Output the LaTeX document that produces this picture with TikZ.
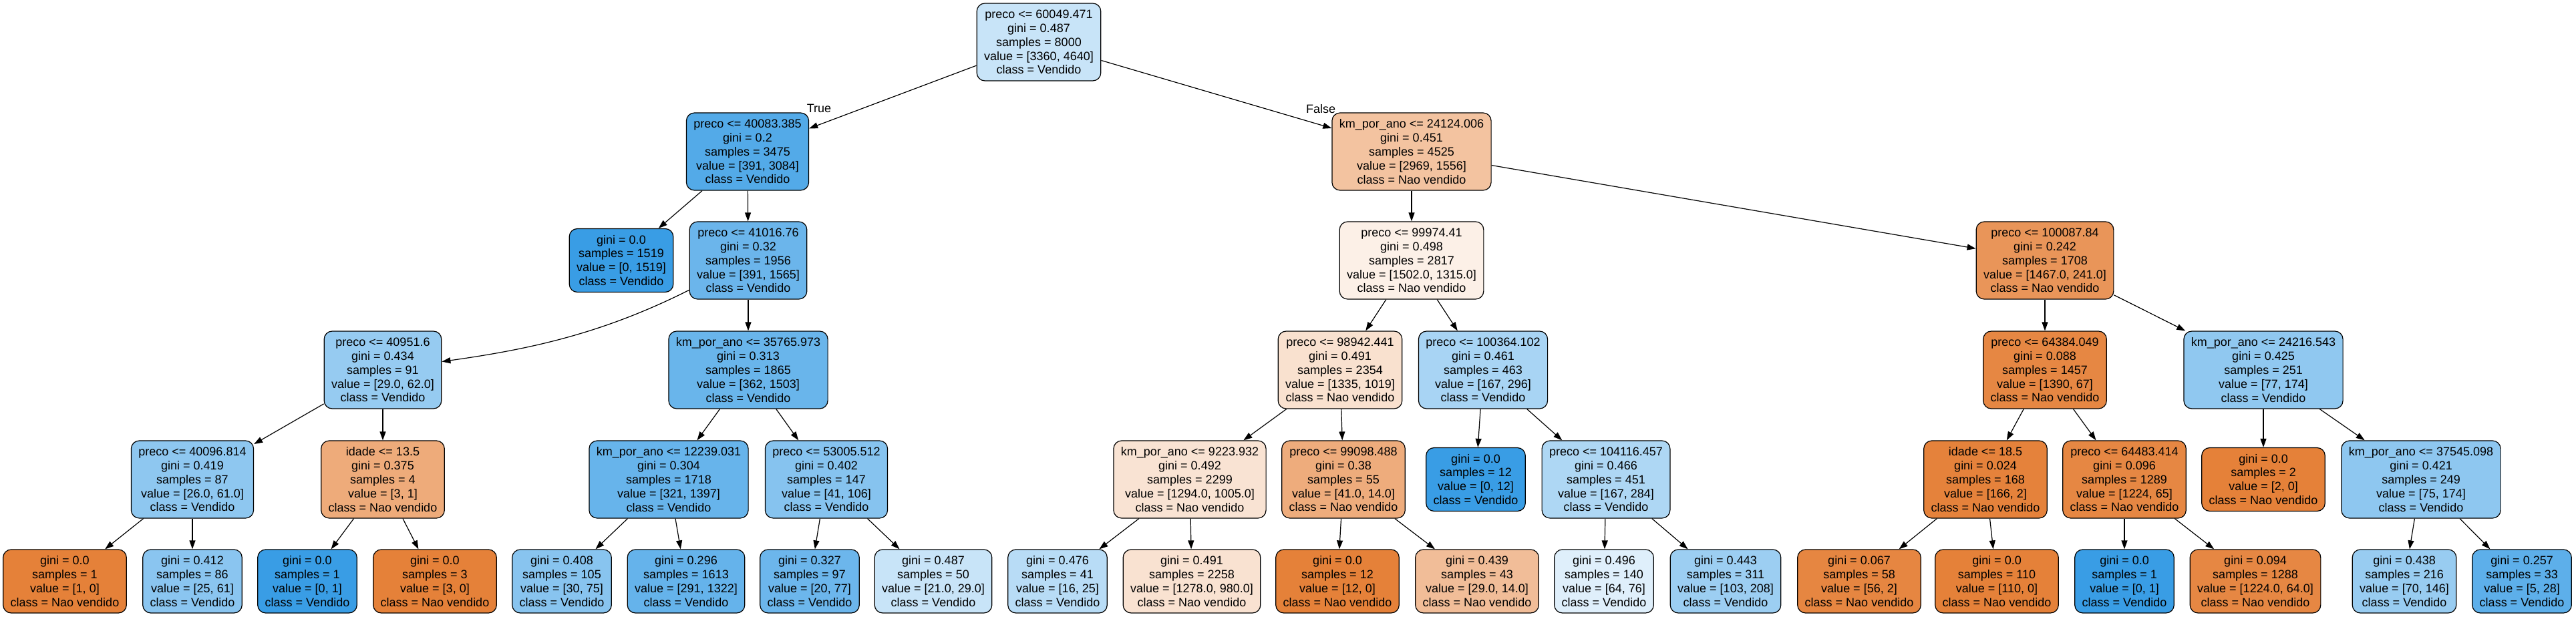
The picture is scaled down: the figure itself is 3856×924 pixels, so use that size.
\documentclass[tikz,border=0pt]{standalone}
\usepackage{fontspec}
\setmainfont{Liberation Sans}
\usetikzlibrary{arrows.meta}
\definecolor{cO}{RGB}{229,129,57}
\definecolor{cB}{RGB}{57,157,229}
\newcommand\treefont{\fontsize{9pt}{10.45pt}\selectfont}
\begin{document}
\begin{tikzpicture}[x=0.5pt,y=-0.5pt,
 tn/.style={draw=black, rounded corners=6pt, line width=0.6pt, align=center, inner xsep=5.5pt, inner ysep=2pt, minimum height=58pt, font=\treefont},
 lf/.style={tn, minimum height=47.5pt},
 blu/.style={fill=cB!#1!white},
 org/.style={fill=cO!#1!white},
 edge/.style={line width=0.6pt, -{Triangle[length=6.5pt,width=4.5pt]}},
 lbl/.style={font=\treefont, inner sep=0pt}]
\useasboundingbox (0,0) rectangle (3856,924);
% level 1
\node[tn,blu=28] (r) at (1555,63) {preco <= 60049.471\\gini = 0.487\\samples = 8000\\value = [3360, 4640]\\class = Vendido};
% level 2
\node[tn,blu=87] (a) at (1119,227) {preco <= 40083.385\\gini = 0.2\\samples = 3475\\value = [391, 3084]\\class = Vendido};
\node[tn,org=48] (b) at (2113,227) {km\_por\_ano <= 24124.006\\gini = 0.451\\samples = 4525\\value = [2969, 1556]\\class = Nao vendido};
% level 3
\node[lf,blu=100] (aa) at (930,390) {gini = 0.0\\samples = 1519\\value = [0, 1519]\\class = Vendido};
\node[tn,blu=75] (ab) at (1120,390) {preco <= 41016.76\\gini = 0.32\\samples = 1956\\value = [391, 1565]\\class = Vendido};
\node[tn,org=12] (ba) at (2113,390) {preco <= 99974.41\\gini = 0.498\\samples = 2817\\value = [1502.0, 1315.0]\\class = Nao vendido};
\node[tn,org=84] (bb) at (3061,390) {preco <= 100087.84\\gini = 0.242\\samples = 1708\\value = [1467.0, 241.0]\\class = Nao vendido};
% level 4
\node[tn,blu=53] (aba) at (573,554) {preco <= 40951.6\\gini = 0.434\\samples = 91\\value = [29.0, 62.0]\\class = Vendido};
\node[tn,blu=76] (abb) at (1120,554) {km\_por\_ano <= 35765.973\\gini = 0.313\\samples = 1865\\value = [362, 1503]\\class = Vendido};
\node[tn,org=24] (baa) at (2006,554) {preco <= 98942.441\\gini = 0.491\\samples = 2354\\value = [1335, 1019]\\class = Nao vendido};
\node[tn,blu=44] (bab) at (2220,554) {preco <= 100364.102\\gini = 0.461\\samples = 463\\value = [167, 296]\\class = Vendido};
\node[tn,org=95] (bba) at (3061,554) {preco <= 64384.049\\gini = 0.088\\samples = 1457\\value = [1390, 67]\\class = Nao vendido};
\node[tn,blu=56] (bbb) at (3388,554) {km\_por\_ano <= 24216.543\\gini = 0.425\\samples = 251\\value = [77, 174]\\class = Vendido};
% level 5
\node[tn,blu=57] (abaa) at (288,718) {preco <= 40096.814\\gini = 0.419\\samples = 87\\value = [26.0, 61.0]\\class = Vendido};
\node[tn,org=67] (abab) at (573,718) {idade <= 13.5\\gini = 0.375\\samples = 4\\value = [3, 1]\\class = Nao vendido};
\node[tn,blu=77] (abba) at (1001,718) {km\_por\_ano <= 12239.031\\gini = 0.304\\samples = 1718\\value = [321, 1397]\\class = Vendido};
\node[tn,blu=61] (abbb) at (1237,718) {preco <= 53005.512\\gini = 0.402\\samples = 147\\value = [41, 106]\\class = Vendido};
\node[tn,org=22] (baaa) at (1781,718) {km\_por\_ano <= 9223.932\\gini = 0.492\\samples = 2299\\value = [1294.0, 1005.0]\\class = Nao vendido};
\node[tn,org=66] (baab) at (2011,718) {preco <= 99098.488\\gini = 0.38\\samples = 55\\value = [41.0, 14.0]\\class = Nao vendido};
\node[lf,blu=100] (baba) at (2209,718) {gini = 0.0\\samples = 12\\value = [0, 12]\\class = Vendido};
\node[tn,blu=41] (babb) at (2404,718) {preco <= 104116.457\\gini = 0.466\\samples = 451\\value = [167, 284]\\class = Vendido};
\node[tn,org=99] (bbaa) at (2972,718) {idade <= 18.5\\gini = 0.024\\samples = 168\\value = [166, 2]\\class = Nao vendido};
\node[tn,org=95] (bbab) at (3180,718) {preco <= 64483.414\\gini = 0.096\\samples = 1289\\value = [1224, 65]\\class = Nao vendido};
\node[lf,org=100] (bbba) at (3388,718) {gini = 0.0\\samples = 2\\value = [2, 0]\\class = Nao vendido};
\node[tn,blu=57] (bbbb) at (3624,718) {km\_por\_ano <= 37545.098\\gini = 0.421\\samples = 249\\value = [75, 174]\\class = Vendido};
% level 6
\node[lf,org=100] (L1) at (97,870.5) {gini = 0.0\\samples = 1\\value = [1, 0]\\class = Nao vendido};
\node[lf,blu=59] (L2) at (288,870.5) {gini = 0.412\\samples = 86\\value = [25, 61]\\class = Vendido};
\node[lf,blu=100] (L3) at (460,870.5) {gini = 0.0\\samples = 1\\value = [0, 1]\\class = Vendido};
\node[lf,org=100] (L4) at (651,870.5) {gini = 0.0\\samples = 3\\value = [3, 0]\\class = Nao vendido};
\node[lf,blu=60] (L5) at (841,870.5) {gini = 0.408\\samples = 105\\value = [30, 75]\\class = Vendido};
\node[lf,blu=78] (L6) at (1027,870.5) {gini = 0.296\\samples = 1613\\value = [291, 1322]\\class = Vendido};
\node[lf,blu=74] (L7) at (1212,870.5) {gini = 0.327\\samples = 97\\value = [20, 77]\\class = Vendido};
\node[lf,blu=28] (L8) at (1397,870.5) {gini = 0.487\\samples = 50\\value = [21.0, 29.0]\\class = Vendido};
\node[lf,blu=36] (L9) at (1583,870.5) {gini = 0.476\\samples = 41\\value = [16, 25]\\class = Vendido};
\node[lf,org=23] (L10) at (1784,870.5) {gini = 0.491\\samples = 2258\\value = [1278.0, 980.0]\\class = Nao vendido};
\node[lf,org=100] (L11) at (2002,870.5) {gini = 0.0\\samples = 12\\value = [12, 0]\\class = Nao vendido};
\node[lf,org=52] (L12) at (2211,870.5) {gini = 0.439\\samples = 43\\value = [29.0, 14.0]\\class = Nao vendido};
\node[lf,blu=16] (L13) at (2401,870.5) {gini = 0.496\\samples = 140\\value = [64, 76]\\class = Vendido};
\node[lf,blu=50] (L14) at (2583,870.5) {gini = 0.443\\samples = 311\\value = [103, 208]\\class = Vendido};
\node[lf,org=96] (L15) at (2783,870.5) {gini = 0.067\\samples = 58\\value = [56, 2]\\class = Nao vendido};
\node[lf,org=100] (L16) at (2989,870.5) {gini = 0.0\\samples = 110\\value = [110, 0]\\class = Nao vendido};
\node[lf,blu=100] (L17) at (3180,870.5) {gini = 0.0\\samples = 1\\value = [0, 1]\\class = Vendido};
\node[lf,org=95] (L18) at (3376,870.5) {gini = 0.094\\samples = 1288\\value = [1224.0, 64.0]\\class = Nao vendido};
\node[lf,blu=52] (L19) at (3599,870.5) {gini = 0.438\\samples = 216\\value = [70, 146]\\class = Vendido};
\node[lf,blu=82] (L20) at (3775,870.5) {gini = 0.257\\samples = 33\\value = [5, 28]\\class = Vendido};
% labels
\node[lbl] (tT) at (1226,162) {True};
\node[lbl] (tF) at (1977,163) {False};
% edges
\draw[edge] (r) -- (a);
\draw[edge] (r) -- (b);
\draw[edge] (a) -- (aa);
\draw[edge] (a) -- (ab);
\draw[edge] (b) -- (ba);
\draw[edge] (b) -- (bb);
\coordinate (c1) at (901,500);
\coordinate (c2) at (793,523);
\draw[edge] (ab) .. controls (c1) and (c2) .. (aba);
\draw[edge] (ab) -- (abb);
\draw[edge] (ba) -- (baa);
\draw[edge] (ba) -- (bab);
\draw[edge] (bb) -- (bba);
\draw[edge] (bb) -- (bbb);
\draw[edge] (aba) -- (abaa);
\draw[edge] (aba) -- (abab);
\draw[edge] (abb) -- (abba);
\draw[edge] (abb) -- (abbb);
\draw[edge] (baa) -- (baaa);
\draw[edge] (baa) -- (baab);
\draw[edge] (bab) -- (baba);
\draw[edge] (bab) -- (babb);
\draw[edge] (bba) -- (bbaa);
\draw[edge] (bba) -- (bbab);
\draw[edge] (bbb) -- (bbba);
\draw[edge] (bbb) -- (bbbb);
\draw[edge] (abaa) -- (L1);
\draw[edge] (abaa) -- (L2);
\draw[edge] (abab) -- (L3);
\draw[edge] (abab) -- (L4);
\draw[edge] (abba) -- (L5);
\draw[edge] (abba) -- (L6);
\draw[edge] (abbb) -- (L7);
\draw[edge] (abbb) -- (L8);
\draw[edge] (baaa) -- (L9);
\draw[edge] (baaa) -- (L10);
\draw[edge] (baab) -- (L11);
\draw[edge] (baab) -- (L12);
\draw[edge] (babb) -- (L13);
\draw[edge] (babb) -- (L14);
\draw[edge] (bbaa) -- (L15);
\draw[edge] (bbaa) -- (L16);
\draw[edge] (bbab) -- (L17);
\draw[edge] (bbab) -- (L18);
\draw[edge] (bbbb) -- (L19);
\draw[edge] (bbbb) -- (L20);
\end{tikzpicture}
\end{document}
